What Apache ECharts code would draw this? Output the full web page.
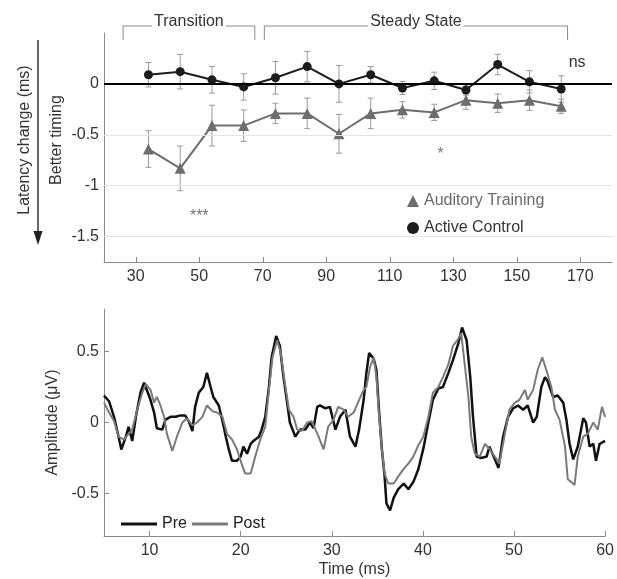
<!DOCTYPE html>
<html>
<head>
<meta charset="utf-8">
<script src="https://cdn.jsdelivr.net/npm/echarts@6/dist/echarts.min.js"></script>
<style>
  html, body { margin: 0; padding: 0; background: #fff; }
  #chart { width: 617px; height: 579px; }
</style>
</head>
<body>
<div id="chart"></div>
<script>
// top panel: latency change per analysis window (ms)
var windows = [34, 44, 54, 64, 74, 84, 94, 104, 114, 124, 134, 144, 154, 164];
var controlMean = [0.09, 0.12, 0.04, -0.03, 0.06, 0.17, 0.0, 0.09, -0.04, 0.03, -0.06, 0.19, 0.02, -0.05];
var controlErr = [0.12, 0.17, 0.13, 0.13, 0.16, 0.15, 0.18, 0.08, 0.065, 0.085, 0.05, 0.1, 0.11, 0.13];
var trainMean = [-0.64, -0.83, -0.41, -0.41, -0.29, -0.29, -0.49, -0.29, -0.255, -0.28, -0.16, -0.19, -0.16, -0.22];
var trainErr = [0.18, 0.22, 0.2, 0.155, 0.1, 0.15, 0.19, 0.15, 0.08, 0.08, 0.09, 0.09, 0.1, 0.07];
var topXTicks = [30, 50, 70, 90, 110, 130, 150, 170];
var topYTicks = [-1.5, -1, -0.5, 0];
var topGrid = [-0.5, -1, -1.5];
var stars = [
  { text: '***', x: 50, y: -1.26 },
  { text: '*', x: 126, y: -0.66 },
  { text: 'ns', x: 169, y: 0.21 }
];
var phases = [
  { label: 'Transition', from: 26, to: 67.5 },
  { label: 'Steady State', from: 70.5, to: 166 }
];

// bottom panel: response waveforms, [time ms, amplitude uV]
var preWave = [[5.0,0.19],[5.55,0.15],[6.1,0.04],[6.6,-0.10],[6.9,-0.19],[7.4,-0.10],[7.7,-0.03],[8.1,-0.13],[8.5,0.04],[9.0,0.21],[9.4,0.28],[9.75,0.22],[10.1,0.16],[10.5,0.07],[10.8,-0.04],[11.4,-0.05],[11.75,0.02],[12.3,0.04],[12.85,0.04],[13.4,0.05],[13.9,0.05],[14.3,0.01],[14.7,-0.06],[15.0,0.11],[15.4,0.21],[15.9,0.25],[16.3,0.35],[16.7,0.25],[17.0,0.18],[17.6,0.12],[18.0,0.01],[18.3,-0.08],[18.7,-0.19],[19.05,-0.27],[19.6,-0.27],[20.0,-0.24],[20.3,-0.17],[20.7,-0.22],[21.1,-0.15],[21.4,-0.13],[22.0,-0.10],[22.3,-0.05],[22.7,0.04],[23.1,0.25],[23.4,0.46],[23.9,0.61],[24.3,0.54],[24.7,0.32],[25.1,0.14],[25.4,0.0],[26.0,-0.10],[26.5,-0.05],[27.1,-0.05],[27.6,0.0],[28.0,-0.04],[28.4,0.11],[28.7,0.12],[29.3,0.10],[29.8,0.11],[30.4,-0.05],[30.9,0.04],[31.5,0.09],[32.0,-0.10],[32.6,-0.17],[33.0,-0.05],[33.5,0.16],[33.8,0.35],[34.1,0.49],[34.6,0.45],[34.9,0.37],[35.2,0.07],[35.5,-0.19],[35.8,-0.38],[36.0,-0.57],[36.4,-0.62],[36.8,-0.53],[37.3,-0.47],[37.9,-0.43],[38.4,-0.47],[38.95,-0.42],[39.5,-0.33],[40.1,-0.17],[40.6,0.0],[41.1,0.16],[41.7,0.24],[42.2,0.25],[42.8,0.35],[43.3,0.44],[43.9,0.56],[44.3,0.67],[44.8,0.58],[45.2,0.32],[45.5,0.04],[45.9,-0.24],[46.4,-0.25],[47.0,-0.24],[47.3,-0.17],[47.7,-0.23],[48.3,-0.32],[48.8,-0.10],[49.35,0.04],[49.9,0.10],[50.45,0.12],[51.0,0.09],[51.5,0.12],[52.1,0.0],[52.5,0.04],[53.0,0.25],[53.4,0.32],[53.7,0.29],[54.3,0.18],[54.8,0.19],[55.4,0.14],[55.75,0.02],[56.1,-0.15],[56.5,-0.26],[57.0,-0.17],[57.6,0.03],[57.9,0.0],[58.3,-0.17],[58.7,-0.15],[59.0,-0.27],[59.4,-0.15],[60.0,-0.13]];
var postWave = [[5.0,0.14],[5.55,0.07],[6.1,0.01],[6.6,-0.10],[7.2,-0.12],[7.7,-0.08],[8.1,-0.05],[8.65,0.09],[9.2,0.21],[9.6,0.27],[10.1,0.23],[10.5,0.14],[10.8,0.18],[11.2,0.12],[11.6,0.04],[11.9,-0.08],[12.5,-0.20],[13.0,-0.10],[13.6,0.0],[14.1,0.03],[14.7,-0.02],[15.2,0.0],[15.8,0.04],[16.3,0.12],[16.9,0.08],[17.4,0.07],[18.0,0.04],[18.5,-0.08],[19.05,-0.12],[19.6,-0.19],[20.1,-0.29],[20.5,-0.36],[21.1,-0.36],[21.6,-0.24],[22.15,-0.12],[22.7,-0.03],[23.1,0.23],[23.5,0.46],[24.0,0.58],[24.4,0.49],[24.8,0.30],[25.3,0.09],[25.8,0.04],[26.2,-0.05],[26.7,-0.06],[27.3,0.0],[27.8,0.01],[28.55,-0.10],[29.1,-0.19],[29.6,-0.03],[30.2,0.02],[30.7,0.11],[31.3,0.09],[31.8,0.04],[32.4,0.07],[33.0,0.16],[33.5,0.23],[33.8,0.25],[34.2,0.39],[34.6,0.46],[34.9,0.32],[35.2,0.04],[35.5,-0.19],[35.8,-0.36],[36.2,-0.43],[36.8,-0.43],[37.3,-0.38],[37.85,-0.33],[38.4,-0.29],[38.95,-0.24],[39.5,-0.16],[40.05,-0.10],[40.6,0.04],[41.1,0.21],[41.7,0.25],[42.2,0.32],[42.8,0.41],[43.3,0.54],[43.8,0.58],[44.2,0.63],[44.5,0.46],[45.0,0.18],[45.3,-0.10],[45.7,-0.22],[46.25,-0.24],[46.8,-0.15],[47.35,-0.19],[47.9,-0.24],[48.4,-0.29],[49.0,-0.08],[49.5,0.09],[50.1,0.14],[50.6,0.16],[51.2,0.23],[51.5,0.16],[52.1,0.23],[52.6,0.37],[53.1,0.46],[53.55,0.37],[54.1,0.25],[54.5,0.09],[55.0,0.02],[55.6,-0.17],[55.9,-0.40],[56.3,-0.42],[56.65,-0.44],[57.0,-0.24],[57.6,-0.10],[58.1,-0.08],[58.7,0.0],[59.2,-0.05],[59.65,0.11],[60.0,0.04]];
var bottomXTicks = [10, 20, 30, 40, 50, 60];
var bottomYTicks = [-0.5, 0, 0.5];

var FONT = '"Liberation Sans", Arial, sans-serif';
var AXIS_GRAY = '#8a8a8a';
var chart = echarts.init(document.getElementById('chart'));

function pairs(mean) {
  return windows.map(function (x, i) { return [x, mean[i]]; });
}
function bars(mean, err) {
  return windows.map(function (x, i) { return [x, mean[i] - err[i], mean[i] + err[i]]; });
}
function renderErr(params, api) {
  var x = api.value(0);
  var lo = api.coord([x, api.value(1)]);
  var hi = api.coord([x, api.value(2)]);
  var w = 3;
  var st = { stroke: '#9a9a9a', lineWidth: 1 };
  return {
    type: 'group',
    children: [
      { type: 'line', shape: { x1: lo[0], y1: lo[1], x2: hi[0], y2: hi[1] }, style: st },
      { type: 'line', shape: { x1: lo[0] - w, y1: lo[1], x2: lo[0] + w, y2: lo[1] }, style: st },
      { type: 'line', shape: { x1: hi[0] - w, y1: hi[1], x2: hi[0] + w, y2: hi[1] }, style: st }
    ]
  };
}

function valueAxis(opts) {
  return Object.assign({
    type: 'value',
    axisLine: { show: true, onZero: false, lineStyle: { color: AXIS_GRAY, width: 1 } },
    axisTick: { show: true, inside: true, length: 5, lineStyle: { color: AXIS_GRAY } },
    axisLabel: { color: '#333', fontSize: 16, fontFamily: FONT, margin: 6 },
    splitLine: { show: false }
  }, opts);
}

var gridLines = topGrid.map(function (v) {
  return { yAxis: v, lineStyle: { color: '#e4e4e4', width: 1, type: 'solid' } };
});
gridLines.push({ yAxis: 0, lineStyle: { color: '#000', width: 2, type: 'solid' } });

chart.setOption({
  animation: false,
  textStyle: { fontFamily: FONT },
  grid: [
    { left: 104, right: 5, top: 33, height: 229 },
    { left: 104, right: 10, top: 309, height: 229 }
  ],
  xAxis: [
    valueAxis({
      gridIndex: 0, min: 20, max: 180,
      axisTick: { show: true, inside: true, length: 5, lineStyle: { color: AXIS_GRAY }, customValues: topXTicks },
      axisLabel: { color: '#333', fontSize: 16, fontFamily: FONT, margin: 7, customValues: topXTicks }
    }),
    valueAxis({
      gridIndex: 1, min: 5, max: 60,
      name: 'Time (ms)', nameLocation: 'middle', nameGap: 26,
      nameTextStyle: { color: '#333', fontSize: 16, fontFamily: FONT },
      axisTick: { show: true, inside: true, length: 5, lineStyle: { color: AXIS_GRAY }, customValues: bottomXTicks },
      axisLabel: { color: '#333', fontSize: 16, fontFamily: FONT, margin: 7, customValues: bottomXTicks }
    })
  ],
  yAxis: [
    valueAxis({
      gridIndex: 0, min: -1.75, max: 0.5,
      axisTick: { show: true, inside: true, length: 5, lineStyle: { color: AXIS_GRAY }, customValues: topYTicks },
      axisLabel: { color: '#333', fontSize: 16, fontFamily: FONT, margin: 5, customValues: topYTicks }
    }),
    valueAxis({
      gridIndex: 1, min: -0.8, max: 0.8,
      name: 'Amplitude (\u03bcV)', nameLocation: 'middle', nameGap: 43,
      nameTextStyle: { color: '#333', fontSize: 16, fontFamily: FONT },
      axisTick: { show: true, inside: true, length: 5, lineStyle: { color: AXIS_GRAY }, customValues: bottomYTicks },
      axisLabel: { color: '#333', fontSize: 16, fontFamily: FONT, margin: 5, customValues: bottomYTicks }
    })
  ],
  legend: [
    {
      orient: 'vertical', left: 402, top: 188, itemWidth: 12, itemHeight: 12, itemGap: 11,
      textStyle: { fontSize: 16, color: '#333', fontFamily: FONT },
      data: [
        { name: 'Auditory Training', icon: 'triangle', textStyle: { color: '#6a6a6a' } },
        { name: 'Active Control', icon: 'circle' }
      ]
    },
    {
      orient: 'horizontal', left: 116, top: 511, itemWidth: 36, itemHeight: 3, itemGap: 5,
      icon: 'rect',
      textStyle: { fontSize: 16, color: '#222', fontFamily: FONT },
      data: ['Pre', 'Post']
    }
  ],
  series: [
    {
      type: 'custom', name: 'trainErr', xAxisIndex: 0, yAxisIndex: 0, z: 2,
      renderItem: renderErr, encode: { x: 0, y: [1, 2] }, data: bars(trainMean, trainErr)
    },
    {
      type: 'custom', name: 'controlErr', xAxisIndex: 0, yAxisIndex: 0, z: 2,
      renderItem: renderErr, encode: { x: 0, y: [1, 2] }, data: bars(controlMean, controlErr)
    },
    {
      type: 'line', name: 'Auditory Training', xAxisIndex: 0, yAxisIndex: 0, z: 3,
      data: pairs(trainMean), symbol: 'triangle', symbolSize: 11,
      itemStyle: { color: '#6d6d6d' }, lineStyle: { color: '#6d6d6d', width: 2 },
      markLine: { silent: true, symbol: ['none', 'none'], label: { show: false }, data: gridLines }
    },
    {
      type: 'line', name: 'Active Control', xAxisIndex: 0, yAxisIndex: 0, z: 4,
      data: pairs(controlMean), symbol: 'circle', symbolSize: 9,
      itemStyle: { color: '#1c1c1c' }, lineStyle: { color: '#1c1c1c', width: 2 }
    },
    {
      type: 'line', name: 'Pre', xAxisIndex: 1, yAxisIndex: 1,
      data: preWave, showSymbol: false, symbol: 'none',
      itemStyle: { color: '#111' }, lineStyle: { color: '#111', width: 2.5 }
    },
    {
      type: 'line', name: 'Post', xAxisIndex: 1, yAxisIndex: 1,
      data: postWave, showSymbol: false, symbol: 'none',
      itemStyle: { color: '#7a7a7a' }, lineStyle: { color: '#7a7a7a', width: 2 }
    }
  ]
});

// annotations: side labels, arrow, phase brackets, significance marks
function toPx(x, y) {
  return chart.convertToPixel({ gridIndex: 0 }, [x, y]);
}
var g = [];
g.push({
  type: 'text', x: 25, y: 140, rotation: Math.PI / 2,
  style: { text: 'Latency change (ms)', fill: '#333', font: '16px ' + FONT, align: 'center', verticalAlign: 'middle' }
});
g.push({
  type: 'text', x: 57, y: 140, rotation: Math.PI / 2,
  style: { text: 'Better timing', fill: '#333', font: '16px ' + FONT, align: 'center', verticalAlign: 'middle' }
});
g.push({ type: 'line', shape: { x1: 38, y1: 40, x2: 38, y2: 236 }, style: { stroke: '#333', lineWidth: 1.5 } });
g.push({ type: 'polygon', shape: { points: [[33.5, 231], [42.5, 231], [38, 245]] }, style: { fill: '#222' } });

var bracketTop = 26, bracketBottom = 40;
phases.forEach(function (p) {
  var a = toPx(p.from, 0)[0];
  var b = toPx(p.to, 0)[0];
  g.push({
    type: 'polyline',
    shape: { points: [[a, bracketBottom], [a, bracketTop], [b, bracketTop], [b, bracketBottom]] },
    style: { stroke: '#8a8a8a', lineWidth: 1, fill: null }
  });
  g.push({
    type: 'text', x: (a + b) / 2, y: bracketTop - 4,
    style: {
      text: p.label, fill: '#333', font: '16px ' + FONT, align: 'center', verticalAlign: 'middle',
      backgroundColor: '#fff', padding: [0, 2]
    }
  });
});

stars.forEach(function (s) {
  var p = toPx(s.x, s.y);
  var isStar = s.text.charAt(0) === '*';
  g.push({
    type: 'text', x: p[0], y: p[1] + (isStar ? 4 : 0),
    style: { text: s.text, fill: isStar ? '#777' : '#333', font: '16px ' + FONT, align: 'center', verticalAlign: 'middle' }
  });
});

chart.setOption({ graphic: g });
</script>
</body>
</html>
